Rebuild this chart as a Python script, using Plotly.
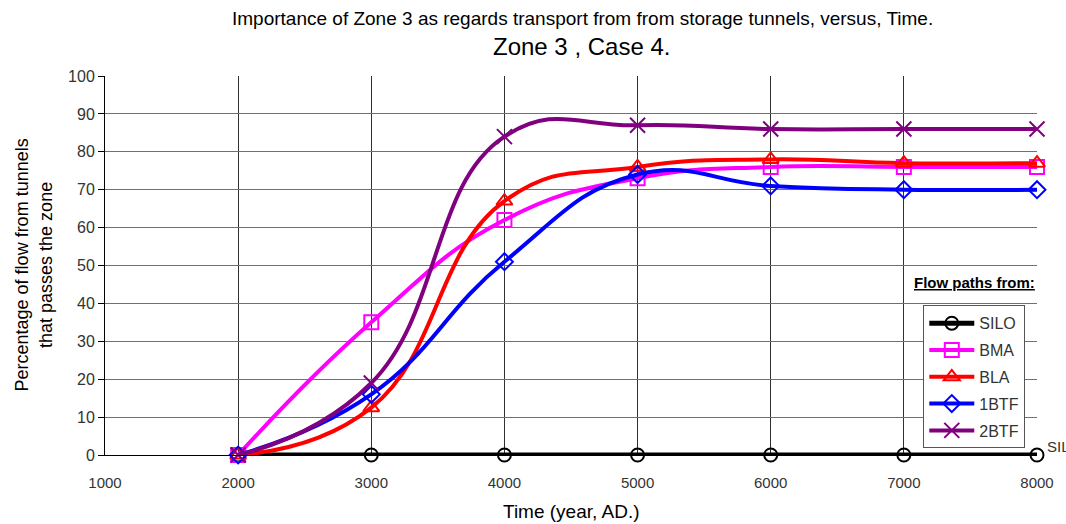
import plotly.graph_objects as go

years = [2000, 3000, 4000, 5000, 6000, 7000, 8000]
silo = [0, 0, 0, 0, 0, 0, 0]
bma = [0, 35, 62, 73, 76, 76, 76]
bla = [0, 12.5, 67, 76, 78, 77, 77]
btf1 = [0, 16, 51, 74, 71, 70, 70]
btf2 = [0, 19, 84, 87, 86, 86, 86]

x_ticks = [1000, 2000, 3000, 4000, 5000, 6000, 7000, 8000]
y_ticks = [0, 10, 20, 30, 40, 50, 60, 70, 80, 90, 100]

series = [
    ("SILO", silo, "#000000", "circle-open", 13, 5),
    ("BMA", bma, "#FF00FF", "square-open", 14, 4),
    ("BLA", bla, "#FF0000", "triangle-up-open", 14, 4),
    ("1BTF", btf1, "#0000FF", "diamond-open", 13, 4),
    ("2BTF", btf2, "#800080", "x-thin-open", 15, 4),
]

FONT = "Liberation Sans, Arial, sans-serif"

fig = go.Figure()
for name, vals, color, sym, size, lw in series:
    fig.add_trace(go.Scatter(
        x=years, y=vals, name=name, legendgroup=name,
        mode="lines+markers",
        line=dict(color=color, width=lw, shape="spline", smoothing=1.3),
        marker=dict(symbol=sym, size=size, color=color,
                    line=dict(color=color, width=2)),
        cliponaxis=False,
    ))

fig.update_layout(
    width=1066, height=524,
    margin=dict(l=105, r=23, t=76, b=69),
    paper_bgcolor="white", plot_bgcolor="white",
    font=dict(family=FONT, size=15, color="#333333"),
    showlegend=True,
    legend=dict(
        x=0.878, y=0.395, xanchor="left", yanchor="top",
        bgcolor="white", bordercolor="#555555", borderwidth=1,
        font=dict(family=FONT, size=16, color="#333333"),
        itemwidth=45, tracegroupgap=3, traceorder="grouped",
    ),
    xaxis=dict(
        range=[1000, 8000], tickvals=x_ticks, ticktext=[str(v) for v in x_ticks],
        showgrid=True, gridcolor="#303030", gridwidth=1,
        showline=True, linecolor="#000000", linewidth=1, mirror=False,
        ticks="", zeroline=False, ticklabelstandoff=14,
        tickfont=dict(family=FONT, size=15, color="#333333"),
    ),
    yaxis=dict(
        range=[0, 100], tickvals=y_ticks,
        showgrid=True, gridcolor="#707070", gridwidth=1,
        showline=True, linecolor="#000000", linewidth=1,
        ticks="outside", ticklen=6, tickcolor="#000000",
        zeroline=False,
        tickfont=dict(family=FONT, size=16, color="#333333"),
    ),
    annotations=[
        dict(text="Importance of Zone 3 as regards transport from from storage tunnels, versus, Time.",
             xref="paper", yref="paper", x=(586 - 105) / 938, y=(455 - 18) / 379,
             xanchor="center", yanchor="middle", showarrow=False,
             font=dict(family=FONT, size=19, color="#000000")),
        dict(text="Zone 3 , Case 4.",
             xref="paper", yref="paper", x=(585 - 105) / 938, y=(455 - 47) / 379,
             xanchor="center", yanchor="middle", showarrow=False,
             font=dict(family=FONT, size=24, color="#000000")),
        dict(text="Time (year, AD.)",
             xref="paper", yref="paper", x=(574 - 105) / 938, y=(455 - 511) / 379,
             xanchor="center", yanchor="middle", showarrow=False,
             font=dict(family=FONT, size=19, color="#000000")),
        dict(text="Percentage of flow from tunnels<br>that passes the zone",
             xref="paper", yref="paper", x=(33 - 105) / 938, y=(455 - 265) / 379,
             xanchor="center", yanchor="middle", showarrow=False, textangle=-90,
             font=dict(family=FONT, size=18, color="#000000")),
        dict(text="<b><u>Flow paths from:</u></b>",
             xref="paper", yref="paper", x=(1043 - 105) / 938, y=(455 - 282) / 379,
             xanchor="right", yanchor="middle", showarrow=False,
             bgcolor="white",
             font=dict(family=FONT, size=15, color="#000000")),
        dict(text="SILO", xref="x", yref="y", x=8000, y=0,
             xanchor="left", yanchor="bottom", xshift=8, yshift=-2, showarrow=False,
             font=dict(family=FONT, size=15, color="#333333")),
    ],
)

fig.write_html("out.html")
